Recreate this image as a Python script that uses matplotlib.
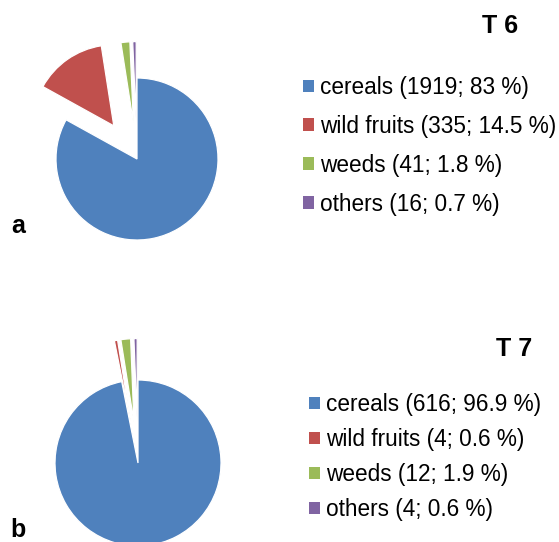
import matplotlib.pyplot as plt

plt.rcParams['font.family'] = ['Liberation Sans', 'DejaVu Sans']

categories = ["cereals", "wild fruits", "weeds", "others"]
t6_counts = [1919, 335, 41, 16]
t6_pct = [83, 14.5, 1.8, 0.7]
t7_counts = [616, 4, 12, 4]
t7_pct = [96.9, 0.6, 1.9, 0.6]
colors = ["#4F81BD", "#C0504D", "#9BBB59", "#8064A2"]

W, H = 559, 542
fig = plt.figure(figsize=(W / 100, H / 100), dpi=100)


def pie_axes(cx, cy, r, half=130):
    # axes box in pixels, centred on the pie apex (cy measured from top)
    ax = fig.add_axes([(cx - half) / W, (H - cy - half) / H, 2 * half / W, 2 * half / H])
    return ax, half / r


def draw(ax, lim, counts, pct, explode, legend_xy, spacing):
    wedges, _ = ax.pie(counts, colors=colors, startangle=90, counterclock=False,
                       explode=explode, wedgeprops=dict(edgecolor="white", linewidth=0.9))
    ax.set_xlim(-lim, lim)
    ax.set_ylim(-lim, lim)
    ax.set_aspect("equal")
    labels = [f"{c} ({n}; {p} %)" for c, n, p in zip(categories, counts, pct)]
    leg = fig.legend(wedges, labels, loc="upper left",
                     bbox_to_anchor=(legend_xy[0] / W, 1 - legend_xy[1] / H),
                     frameon=False, fontsize=16.3, handlelength=0.5, handleheight=0.5,
                     handletextpad=0.25, labelspacing=spacing, borderpad=0, borderaxespad=0)
    for h in leg.legend_handles:
        h.set_linewidth(0)


ax1, lim1 = pie_axes(137, 159, 81)
draw(ax1, lim1, t6_counts, t6_pct, [0, 0.5, 0.45, 0.45], (303, 76), 0.7)

ax2, lim2 = pie_axes(138, 463, 83)
draw(ax2, lim2, t7_counts, t7_pct, [0, 0.5, 0.5, 0.5], (309, 393), 0.53)

fig.text(500 / W, 1 - 26 / H, "T 6", fontsize=18, fontweight="bold", ha="center", va="center")
fig.text(514 / W, 1 - 349 / H, "T 7", fontsize=18, fontweight="bold", ha="center", va="center")
fig.text(11 / W, 1 - 233 / H, "a", fontsize=18, fontweight="bold", ha="left", va="baseline")
fig.text(10 / W, 1 - 537 / H, "b", fontsize=18, fontweight="bold", ha="left", va="baseline")

fig.savefig("out.png", dpi=100)
